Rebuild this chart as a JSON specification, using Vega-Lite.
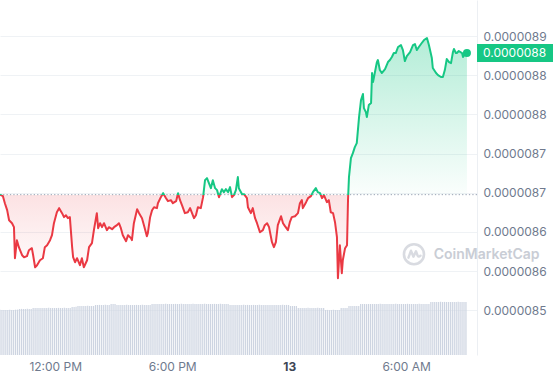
{
  "$schema": "https://vega.github.io/schema/vega-lite/v6.json",
  "width": 477,
  "height": 355,
  "autosize": {"type": "none"},
  "padding": {"left": 0, "top": 0, "right": 76, "bottom": 25},
  "background": "white",
  "config": {"view": {"stroke": null}, "font": "Inter", "scale": {"continuousPadding": 0}},
  "datasets": {
    "price": [
      {"t":"2023-06-12T09:10","p":86.976e-7},{"t":"2023-06-12T09:19","p":86.957e-7},{"t":"2023-06-12T09:25","p":86.867e-7},{"t":"2023-06-12T09:32","p":86.778e-7},{"t":"2023-06-12T09:38","p":86.650e-7},{"t":"2023-06-12T09:47","p":86.612e-7},{"t":"2023-06-12T09:53","p":86.561e-7},{"t":"2023-06-12T09:56","p":86.165e-7},{"t":"2023-06-12T10:02","p":86.395e-7},{"t":"2023-06-12T10:08","p":86.306e-7},
      {"t":"2023-06-12T10:18","p":86.203e-7},{"t":"2023-06-12T10:24","p":86.178e-7},{"t":"2023-06-12T10:33","p":86.191e-7},{"t":"2023-06-12T10:39","p":86.267e-7},{"t":"2023-06-12T10:48","p":86.293e-7},{"t":"2023-06-12T10:52","p":86.203e-7},{"t":"2023-06-12T10:58","p":86.050e-7},{"t":"2023-06-12T11:04","p":86.076e-7},{"t":"2023-06-12T11:13","p":86.139e-7},{"t":"2023-06-12T11:22","p":86.165e-7},
      {"t":"2023-06-12T11:28","p":86.306e-7},{"t":"2023-06-12T11:35","p":86.331e-7},{"t":"2023-06-12T11:44","p":86.395e-7},{"t":"2023-06-12T11:50","p":86.459e-7},{"t":"2023-06-12T11:56","p":86.612e-7},{"t":"2023-06-12T12:05","p":86.752e-7},{"t":"2023-06-12T12:12","p":86.804e-7},{"t":"2023-06-12T12:21","p":86.740e-7},{"t":"2023-06-12T12:27","p":86.689e-7},{"t":"2023-06-12T12:33","p":86.714e-7},
      {"t":"2023-06-12T12:39","p":86.676e-7},{"t":"2023-06-12T12:45","p":86.689e-7},{"t":"2023-06-12T12:52","p":86.306e-7},{"t":"2023-06-12T12:55","p":86.178e-7},{"t":"2023-06-12T13:01","p":86.114e-7},{"t":"2023-06-12T13:07","p":86.165e-7},{"t":"2023-06-12T13:16","p":86.076e-7},{"t":"2023-06-12T13:22","p":86.165e-7},{"t":"2023-06-12T13:28","p":86.050e-7},{"t":"2023-06-12T13:38","p":86.139e-7},
      {"t":"2023-06-12T13:44","p":86.306e-7},{"t":"2023-06-12T13:53","p":86.357e-7},{"t":"2023-06-12T13:59","p":86.523e-7},{"t":"2023-06-12T14:08","p":86.740e-7},{"t":"2023-06-12T14:12","p":86.548e-7},{"t":"2023-06-12T14:18","p":86.612e-7},{"t":"2023-06-12T14:24","p":86.561e-7},{"t":"2023-06-12T14:30","p":86.612e-7},{"t":"2023-06-12T14:39","p":86.523e-7},{"t":"2023-06-12T14:45","p":86.561e-7},
      {"t":"2023-06-12T14:55","p":86.535e-7},{"t":"2023-06-12T15:01","p":86.561e-7},{"t":"2023-06-12T15:10","p":86.587e-7},{"t":"2023-06-12T15:16","p":86.612e-7},{"t":"2023-06-12T15:22","p":86.548e-7},{"t":"2023-06-12T15:28","p":86.459e-7},{"t":"2023-06-12T15:38","p":86.382e-7},{"t":"2023-06-12T15:44","p":86.459e-7},{"t":"2023-06-12T15:53","p":86.421e-7},{"t":"2023-06-12T15:56","p":86.395e-7},
      {"t":"2023-06-12T16:02","p":86.612e-7},{"t":"2023-06-12T16:12","p":86.791e-7},{"t":"2023-06-12T16:18","p":86.740e-7},{"t":"2023-06-12T16:27","p":86.676e-7},{"t":"2023-06-12T16:33","p":86.587e-7},{"t":"2023-06-12T16:42","p":86.446e-7},{"t":"2023-06-12T16:45","p":86.484e-7},{"t":"2023-06-12T16:52","p":86.689e-7},{"t":"2023-06-12T16:58","p":86.778e-7},{"t":"2023-06-12T17:04","p":86.816e-7},
      {"t":"2023-06-12T17:13","p":86.804e-7},{"t":"2023-06-12T17:16","p":86.867e-7},{"t":"2023-06-12T17:25","p":86.944e-7},{"t":"2023-06-12T17:32","p":86.995e-7},{"t":"2023-06-12T17:41","p":86.931e-7},{"t":"2023-06-12T17:47","p":86.893e-7},{"t":"2023-06-12T17:56","p":86.906e-7},{"t":"2023-06-12T18:02","p":86.867e-7},{"t":"2023-06-12T18:12","p":86.893e-7},{"t":"2023-06-12T18:18","p":86.995e-7},
      {"t":"2023-06-12T18:24","p":86.906e-7},{"t":"2023-06-12T18:30","p":86.842e-7},{"t":"2023-06-12T18:39","p":86.740e-7},{"t":"2023-06-12T18:48","p":86.752e-7},{"t":"2023-06-12T18:55","p":86.804e-7},{"t":"2023-06-12T19:01","p":86.740e-7},{"t":"2023-06-12T19:07","p":86.676e-7},{"t":"2023-06-12T19:13","p":86.714e-7},{"t":"2023-06-12T19:19","p":86.816e-7},{"t":"2023-06-12T19:28","p":86.804e-7},
      {"t":"2023-06-12T19:35","p":86.944e-7},{"t":"2023-06-12T19:41","p":87.161e-7},{"t":"2023-06-12T19:47","p":87.187e-7},{"t":"2023-06-12T19:53","p":87.123e-7},{"t":"2023-06-12T19:59","p":87.059e-7},{"t":"2023-06-12T20:05","p":87.161e-7},{"t":"2023-06-12T20:12","p":87.059e-7},{"t":"2023-06-12T20:18","p":87.034e-7},{"t":"2023-06-12T20:24","p":86.944e-7},{"t":"2023-06-12T20:33","p":87.046e-7},
      {"t":"2023-06-12T20:39","p":87.008e-7},{"t":"2023-06-12T20:45","p":87.046e-7},{"t":"2023-06-12T20:52","p":87.008e-7},{"t":"2023-06-12T20:58","p":87.072e-7},{"t":"2023-06-12T21:04","p":86.944e-7},{"t":"2023-06-12T21:10","p":86.970e-7},{"t":"2023-06-12T21:16","p":87.034e-7},{"t":"2023-06-12T21:22","p":87.200e-7},{"t":"2023-06-12T21:25","p":87.059e-7},{"t":"2023-06-12T21:35","p":86.982e-7},
      {"t":"2023-06-12T21:41","p":86.982e-7},{"t":"2023-06-12T21:50","p":86.931e-7},{"t":"2023-06-12T21:53","p":86.816e-7},{"t":"2023-06-12T22:02","p":86.740e-7},{"t":"2023-06-12T22:08","p":86.804e-7},{"t":"2023-06-12T22:15","p":86.676e-7},{"t":"2023-06-12T22:21","p":86.612e-7},{"t":"2023-06-12T22:30","p":86.497e-7},{"t":"2023-06-12T22:39","p":86.523e-7},{"t":"2023-06-12T22:45","p":86.587e-7},
      {"t":"2023-06-12T22:52","p":86.612e-7},{"t":"2023-06-12T22:58","p":86.561e-7},{"t":"2023-06-12T23:07","p":86.369e-7},{"t":"2023-06-12T23:13","p":86.306e-7},{"t":"2023-06-12T23:19","p":86.369e-7},{"t":"2023-06-12T23:25","p":86.587e-7},{"t":"2023-06-12T23:35","p":86.701e-7},{"t":"2023-06-12T23:41","p":86.612e-7},{"t":"2023-06-12T23:47","p":86.574e-7},{"t":"2023-06-12T23:56","p":86.523e-7},
      {"t":"2023-06-13T00:02","p":86.625e-7},{"t":"2023-06-13T00:08","p":86.689e-7},{"t":"2023-06-13T00:18","p":86.701e-7},{"t":"2023-06-13T00:27","p":86.740e-7},{"t":"2023-06-13T00:33","p":86.867e-7},{"t":"2023-06-13T00:39","p":86.906e-7},{"t":"2023-06-13T00:42","p":86.804e-7},{"t":"2023-06-13T00:52","p":86.880e-7},{"t":"2023-06-13T00:58","p":86.931e-7},{"t":"2023-06-13T01:07","p":86.957e-7},
      {"t":"2023-06-13T01:13","p":87.008e-7},{"t":"2023-06-13T01:22","p":87.059e-7},{"t":"2023-06-13T01:28","p":87.008e-7},{"t":"2023-06-13T01:35","p":86.995e-7},{"t":"2023-06-13T01:41","p":86.931e-7},{"t":"2023-06-13T01:47","p":86.970e-7},{"t":"2023-06-13T01:56","p":86.880e-7},{"t":"2023-06-13T02:02","p":86.906e-7},{"t":"2023-06-13T02:08","p":86.752e-7},{"t":"2023-06-13T02:15","p":86.740e-7},
      {"t":"2023-06-13T02:21","p":86.625e-7},{"t":"2023-06-13T02:27","p":86.433e-7},{"t":"2023-06-13T02:30","p":85.910e-7},{"t":"2023-06-13T02:36","p":86.331e-7},{"t":"2023-06-13T02:42","p":85.974e-7},{"t":"2023-06-13T02:45","p":86.139e-7},{"t":"2023-06-13T02:52","p":86.293e-7},{"t":"2023-06-13T02:58","p":86.331e-7},{"t":"2023-06-13T03:01","p":86.906e-7},{"t":"2023-06-13T03:04","p":87.200e-7},
      {"t":"2023-06-13T03:10","p":87.442e-7},{"t":"2023-06-13T03:16","p":87.506e-7},{"t":"2023-06-13T03:22","p":87.583e-7},{"t":"2023-06-13T03:28","p":87.634e-7},{"t":"2023-06-13T03:35","p":87.966e-7},{"t":"2023-06-13T03:41","p":88.183e-7},{"t":"2023-06-13T03:47","p":88.260e-7},{"t":"2023-06-13T03:50","p":88.081e-7},{"t":"2023-06-13T03:56","p":88.030e-7},{"t":"2023-06-13T03:59","p":87.966e-7},
      {"t":"2023-06-13T04:05","p":88.119e-7},{"t":"2023-06-13T04:12","p":88.145e-7},{"t":"2023-06-13T04:15","p":88.528e-7},{"t":"2023-06-13T04:18","p":88.413e-7},{"t":"2023-06-13T04:24","p":88.541e-7},{"t":"2023-06-13T04:30","p":88.668e-7},{"t":"2023-06-13T04:33","p":88.694e-7},{"t":"2023-06-13T04:39","p":88.566e-7},{"t":"2023-06-13T04:45","p":88.528e-7},{"t":"2023-06-13T04:55","p":88.579e-7},
      {"t":"2023-06-13T05:04","p":88.668e-7},{"t":"2023-06-13T05:10","p":88.694e-7},{"t":"2023-06-13T05:16","p":88.732e-7},{"t":"2023-06-13T05:22","p":88.783e-7},{"t":"2023-06-13T05:28","p":88.783e-7},{"t":"2023-06-13T05:35","p":88.860e-7},{"t":"2023-06-13T05:44","p":88.885e-7},{"t":"2023-06-13T05:50","p":88.821e-7},{"t":"2023-06-13T05:56","p":88.681e-7},{"t":"2023-06-13T06:02","p":88.745e-7},
      {"t":"2023-06-13T06:12","p":88.796e-7},{"t":"2023-06-13T06:21","p":88.885e-7},{"t":"2023-06-13T06:27","p":88.898e-7},{"t":"2023-06-13T06:33","p":88.821e-7},{"t":"2023-06-13T06:39","p":88.860e-7},{"t":"2023-06-13T06:48","p":88.911e-7},{"t":"2023-06-13T06:55","p":88.949e-7},{"t":"2023-06-13T07:04","p":88.975e-7},{"t":"2023-06-13T07:10","p":88.885e-7},{"t":"2023-06-13T07:19","p":88.719e-7},
      {"t":"2023-06-13T07:22","p":88.592e-7},{"t":"2023-06-13T07:32","p":88.528e-7},{"t":"2023-06-13T07:38","p":88.502e-7},{"t":"2023-06-13T07:47","p":88.477e-7},{"t":"2023-06-13T07:53","p":88.477e-7},{"t":"2023-06-13T07:59","p":88.566e-7},{"t":"2023-06-13T08:05","p":88.707e-7},{"t":"2023-06-13T08:12","p":88.668e-7},{"t":"2023-06-13T08:18","p":88.655e-7},{"t":"2023-06-13T08:24","p":88.796e-7},
      {"t":"2023-06-13T08:27","p":88.834e-7},{"t":"2023-06-13T08:33","p":88.783e-7},{"t":"2023-06-13T08:36","p":88.783e-7},{"t":"2023-06-13T08:42","p":88.809e-7},{"t":"2023-06-13T08:52","p":88.783e-7},{"t":"2023-06-13T08:55","p":88.732e-7},{"t":"2023-06-13T09:01","p":88.770e-7},{"t":"2023-06-13T09:07","p":88.783e-7}
    ],
    "vol": [
      {"t":"2023-06-12T09:10","v":45.2},{"t":"2023-06-12T09:16","v":45},{"t":"2023-06-12T09:22","v":45.1},{"t":"2023-06-12T09:28","v":44.9},{"t":"2023-06-12T09:34","v":45},{"t":"2023-06-12T09:40","v":45.2},{"t":"2023-06-12T09:46","v":45.1},{"t":"2023-06-12T09:52","v":45},{"t":"2023-06-12T09:58","v":45.3},{"t":"2023-06-12T10:04","v":45.4},
      {"t":"2023-06-12T10:10","v":46},{"t":"2023-06-12T10:16","v":46.1},{"t":"2023-06-12T10:22","v":45.9},{"t":"2023-06-12T10:28","v":46},{"t":"2023-06-12T10:34","v":46.2},{"t":"2023-06-12T10:40","v":46},{"t":"2023-06-12T10:46","v":46.1},{"t":"2023-06-12T10:52","v":47},{"t":"2023-06-12T10:58","v":47.1},{"t":"2023-06-12T11:04","v":46.9},
      {"t":"2023-06-12T11:10","v":47},{"t":"2023-06-12T11:16","v":47.1},{"t":"2023-06-12T11:22","v":47},{"t":"2023-06-12T11:28","v":46.9},{"t":"2023-06-12T11:34","v":47},{"t":"2023-06-12T11:40","v":47.2},{"t":"2023-06-12T11:46","v":47},{"t":"2023-06-12T11:52","v":47.1},{"t":"2023-06-12T11:58","v":47},{"t":"2023-06-12T12:04","v":47},
      {"t":"2023-06-12T12:10","v":47.1},{"t":"2023-06-12T12:16","v":47},{"t":"2023-06-12T12:22","v":47},{"t":"2023-06-12T12:28","v":47.2},{"t":"2023-06-12T12:34","v":47},{"t":"2023-06-12T12:40","v":46.9},{"t":"2023-06-12T12:46","v":47.1},{"t":"2023-06-12T12:52","v":48},{"t":"2023-06-12T12:58","v":48.1},{"t":"2023-06-12T13:04","v":48.2},
      {"t":"2023-06-12T13:10","v":49},{"t":"2023-06-12T13:16","v":49.1},{"t":"2023-06-12T13:22","v":49},{"t":"2023-06-12T13:28","v":48.9},{"t":"2023-06-12T13:34","v":49},{"t":"2023-06-12T13:40","v":49.2},{"t":"2023-06-12T13:46","v":49},{"t":"2023-06-12T13:52","v":49.1},{"t":"2023-06-12T13:58","v":49},{"t":"2023-06-12T14:04","v":50},
      {"t":"2023-06-12T14:10","v":50},{"t":"2023-06-12T14:16","v":50.1},{"t":"2023-06-12T14:22","v":49.9},{"t":"2023-06-12T14:28","v":50},{"t":"2023-06-12T14:34","v":50.2},{"t":"2023-06-12T14:40","v":50},{"t":"2023-06-12T14:46","v":50.1},{"t":"2023-06-12T14:52","v":51},{"t":"2023-06-12T14:58","v":51.1},{"t":"2023-06-12T15:04","v":50.9},
      {"t":"2023-06-12T15:10","v":50},{"t":"2023-06-12T15:16","v":50.1},{"t":"2023-06-12T15:22","v":50},{"t":"2023-06-12T15:28","v":49.9},{"t":"2023-06-12T15:34","v":50},{"t":"2023-06-12T15:40","v":50.2},{"t":"2023-06-12T15:46","v":50},{"t":"2023-06-12T15:52","v":50.1},{"t":"2023-06-12T15:58","v":50},{"t":"2023-06-12T16:04","v":50},
      {"t":"2023-06-12T16:10","v":50.1},{"t":"2023-06-12T16:16","v":50},{"t":"2023-06-12T16:22","v":50},{"t":"2023-06-12T16:28","v":50.2},{"t":"2023-06-12T16:34","v":50},{"t":"2023-06-12T16:40","v":49.9},{"t":"2023-06-12T16:46","v":50.1},{"t":"2023-06-12T16:52","v":50},{"t":"2023-06-12T16:58","v":51},{"t":"2023-06-12T17:04","v":51.1},
      {"t":"2023-06-12T17:10","v":51},{"t":"2023-06-12T17:16","v":51.1},{"t":"2023-06-12T17:22","v":51},{"t":"2023-06-12T17:28","v":50.9},{"t":"2023-06-12T17:34","v":51},{"t":"2023-06-12T17:40","v":51.2},{"t":"2023-06-12T17:46","v":51},{"t":"2023-06-12T17:52","v":51.1},{"t":"2023-06-12T17:58","v":51},{"t":"2023-06-12T18:04","v":51},
      {"t":"2023-06-12T18:10","v":51.1},{"t":"2023-06-12T18:16","v":51},{"t":"2023-06-12T18:22","v":51},{"t":"2023-06-12T18:28","v":51.2},{"t":"2023-06-12T18:34","v":51},{"t":"2023-06-12T18:40","v":50.9},{"t":"2023-06-12T18:46","v":51.1},{"t":"2023-06-12T18:52","v":51},{"t":"2023-06-12T18:58","v":51},{"t":"2023-06-12T19:04","v":51.2},
      {"t":"2023-06-12T19:10","v":51},{"t":"2023-06-12T19:16","v":51.1},{"t":"2023-06-12T19:22","v":51},{"t":"2023-06-12T19:28","v":50.9},{"t":"2023-06-12T19:34","v":51},{"t":"2023-06-12T19:40","v":51.2},{"t":"2023-06-12T19:46","v":51},{"t":"2023-06-12T19:52","v":51.1},{"t":"2023-06-12T19:58","v":51},{"t":"2023-06-12T20:04","v":51},
      {"t":"2023-06-12T20:10","v":51.1},{"t":"2023-06-12T20:16","v":51},{"t":"2023-06-12T20:22","v":51},{"t":"2023-06-12T20:28","v":51.2},{"t":"2023-06-12T20:34","v":51},{"t":"2023-06-12T20:40","v":50.9},{"t":"2023-06-12T20:46","v":51.1},{"t":"2023-06-12T20:52","v":51},{"t":"2023-06-12T20:58","v":50},{"t":"2023-06-12T21:04","v":50.1},
      {"t":"2023-06-12T21:10","v":50},{"t":"2023-06-12T21:16","v":50.1},{"t":"2023-06-12T21:22","v":50},{"t":"2023-06-12T21:28","v":49.9},{"t":"2023-06-12T21:34","v":50},{"t":"2023-06-12T21:40","v":50.2},{"t":"2023-06-12T21:46","v":50},{"t":"2023-06-12T21:52","v":50.1},{"t":"2023-06-12T21:58","v":50},{"t":"2023-06-12T22:04","v":50},
      {"t":"2023-06-12T22:10","v":50.1},{"t":"2023-06-12T22:16","v":50},{"t":"2023-06-12T22:22","v":50},{"t":"2023-06-12T22:28","v":50.2},{"t":"2023-06-12T22:34","v":50},{"t":"2023-06-12T22:40","v":49.9},{"t":"2023-06-12T22:46","v":50.1},{"t":"2023-06-12T22:52","v":50},{"t":"2023-06-12T22:58","v":50},{"t":"2023-06-12T23:04","v":50.1},
      {"t":"2023-06-12T23:10","v":50},{"t":"2023-06-12T23:16","v":50.1},{"t":"2023-06-12T23:22","v":50},{"t":"2023-06-12T23:28","v":49.9},{"t":"2023-06-12T23:34","v":50},{"t":"2023-06-12T23:40","v":50.2},{"t":"2023-06-12T23:46","v":50},{"t":"2023-06-12T23:52","v":50.1},{"t":"2023-06-12T23:58","v":50},{"t":"2023-06-13T00:04","v":49},
      {"t":"2023-06-13T00:10","v":49},{"t":"2023-06-13T00:16","v":49.1},{"t":"2023-06-13T00:22","v":48.9},{"t":"2023-06-13T00:28","v":47},{"t":"2023-06-13T00:34","v":47.1},{"t":"2023-06-13T00:40","v":47},{"t":"2023-06-13T00:46","v":46.9},{"t":"2023-06-13T00:52","v":47},{"t":"2023-06-13T00:58","v":47.2},{"t":"2023-06-13T01:04","v":47},
      {"t":"2023-06-13T01:10","v":47.1},{"t":"2023-06-13T01:16","v":47},{"t":"2023-06-13T01:22","v":47},{"t":"2023-06-13T01:28","v":47.2},{"t":"2023-06-13T01:34","v":47},{"t":"2023-06-13T01:40","v":46.9},{"t":"2023-06-13T01:46","v":47},{"t":"2023-06-13T01:52","v":45},{"t":"2023-06-13T01:58","v":45.1},{"t":"2023-06-13T02:04","v":44.9},
      {"t":"2023-06-13T02:10","v":45},{"t":"2023-06-13T02:16","v":45.2},{"t":"2023-06-13T02:22","v":45},{"t":"2023-06-13T02:28","v":44.9},{"t":"2023-06-13T02:34","v":45.1},{"t":"2023-06-13T02:40","v":47},{"t":"2023-06-13T02:46","v":47.1},{"t":"2023-06-13T02:52","v":46.9},{"t":"2023-06-13T02:58","v":47},{"t":"2023-06-13T03:04","v":49},
      {"t":"2023-06-13T03:10","v":49},{"t":"2023-06-13T03:16","v":49.1},{"t":"2023-06-13T03:22","v":49},{"t":"2023-06-13T03:28","v":48.9},{"t":"2023-06-13T03:34","v":49.1},{"t":"2023-06-13T03:40","v":51},{"t":"2023-06-13T03:46","v":51.1},{"t":"2023-06-13T03:52","v":51},{"t":"2023-06-13T03:58","v":50.9},{"t":"2023-06-13T04:04","v":51},
      {"t":"2023-06-13T04:10","v":51},{"t":"2023-06-13T04:16","v":51.1},{"t":"2023-06-13T04:22","v":51},{"t":"2023-06-13T04:28","v":50.9},{"t":"2023-06-13T04:34","v":51},{"t":"2023-06-13T04:40","v":51.2},{"t":"2023-06-13T04:46","v":51},{"t":"2023-06-13T04:52","v":51.1},{"t":"2023-06-13T04:58","v":51},{"t":"2023-06-13T05:04","v":51},
      {"t":"2023-06-13T05:10","v":51.1},{"t":"2023-06-13T05:16","v":51},{"t":"2023-06-13T05:22","v":51},{"t":"2023-06-13T05:28","v":51.2},{"t":"2023-06-13T05:34","v":51},{"t":"2023-06-13T05:40","v":50.9},{"t":"2023-06-13T05:46","v":51.1},{"t":"2023-06-13T05:52","v":51},{"t":"2023-06-13T05:58","v":51},{"t":"2023-06-13T06:04","v":51.2},
      {"t":"2023-06-13T06:10","v":51},{"t":"2023-06-13T06:16","v":51.1},{"t":"2023-06-13T06:22","v":51},{"t":"2023-06-13T06:28","v":50.9},{"t":"2023-06-13T06:34","v":51},{"t":"2023-06-13T06:40","v":51.2},{"t":"2023-06-13T06:46","v":51},{"t":"2023-06-13T06:52","v":51.1},{"t":"2023-06-13T06:58","v":51},{"t":"2023-06-13T07:04","v":51},
      {"t":"2023-06-13T07:10","v":51},{"t":"2023-06-13T07:16","v":53},{"t":"2023-06-13T07:22","v":53.1},{"t":"2023-06-13T07:28","v":53},{"t":"2023-06-13T07:34","v":52.9},{"t":"2023-06-13T07:40","v":53},{"t":"2023-06-13T07:46","v":53.2},{"t":"2023-06-13T07:52","v":53},{"t":"2023-06-13T07:58","v":53.1},{"t":"2023-06-13T08:04","v":53},
      {"t":"2023-06-13T08:10","v":53},{"t":"2023-06-13T08:16","v":53.1},{"t":"2023-06-13T08:22","v":53},{"t":"2023-06-13T08:28","v":52.9},{"t":"2023-06-13T08:34","v":53},{"t":"2023-06-13T08:40","v":53.2},{"t":"2023-06-13T08:46","v":53},{"t":"2023-06-13T08:52","v":53.1},{"t":"2023-06-13T08:58","v":53},{"t":"2023-06-13T09:04","v":53}
    ],
    "last": [
      {"t":"2023-06-13T09:07","p":88.783e-7,"label":"0.0000088","base":86.976e-7}
    ]
  },
  "layer": [
    {
      "data": {"name": "vol"},
      "mark": {"type": "bar", "color": "#cdd4e1", "size": 1.2},
      "encoding": {
        "x": {
          "field": "t", "type": "temporal",
          "scale": {"padding": 0, "domain": [{"year": 2023, "month": 6, "date": 12, "hours": 9, "minutes": 10}, {"year": 2023, "month": 6, "date": 13, "hours": 9, "minutes": 38}]},
          "axis": {
            "title": null,
            "values": [{"year": 2023, "month": 6, "date": 12, "hours": 12}, {"year": 2023, "month": 6, "date": 12, "hours": 18}, {"year": 2023, "month": 6, "date": 13, "hours": 0}, {"year": 2023, "month": 6, "date": 13, "hours": 6}],
            "labelExpr": "hours(datum.value) == 0 ? timeFormat(datum.value, '%-d') : timeFormat(datum.value, '%-I:%M %p')",
            "domain": false, "ticks": false, "grid": false,
            "labelPadding": 6, "labelFontSize": 12, "labelFont": "Inter",
            "labelColor": {"condition": {"test": "hours(datum.value) == 0", "value": "#3d4555"}, "value": "#6f7a8e"},
            "labelFontWeight": {"condition": {"test": "hours(datum.value) == 0", "value": "bold"}, "value": "normal"},
            "labelOverlap": false, "labelFlush": false
          }
        },
        "y": {"field": "v", "type": "quantitative", "scale": {"domain": [0, 355]}, "axis": null}
      }
    },
    {
      "layer": [
        {
          "data": {"name": "price"},
          "mark": {
            "type": "area",
            "line": false,
            "fill": {
              "gradient": "linear", "x1": 0, "y1": 0, "x2": 0, "y2": 1,
              "stops": [
                {"offset": 0, "color": "rgba(22,199,132,0.32)"},
                {"offset": 0.652, "color": "rgba(22,199,132,0.02)"},
                {"offset": 0.652, "color": "rgba(234,57,67,0.15)"},
                {"offset": 1, "color": "rgba(234,57,67,0.0)"}
              ]
            }
          },
          "encoding": {
            "x": {"field": "t", "type": "temporal", "scale": {"padding": 0, "domain": [{"year": 2023, "month": 6, "date": 12, "hours": 9, "minutes": 10}, {"year": 2023, "month": 6, "date": 13, "hours": 9, "minutes": 38}]}},
            "y": {
              "field": "p", "type": "quantitative",
              "scale": {"domain": [84.93e-7, 89.46e-7], "zero": false, "nice": false},
              "axis": {
                "orient": "right", "title": null,
                "values": [89e-7, 88.5e-7, 88e-7, 87.5e-7, 87e-7, 86.5e-7, 86e-7, 85.5e-7],
                "labelExpr": "'0.00000' + floor(datum.value * 1e7 + 0.01)",
                "ticks": false, "domain": true, "domainColor": "#eceff3",
                "grid": true, "gridColor": "#eff2f5",
                "labelPadding": 6, "labelFontSize": 12, "labelFont": "Inter", "labelColor": "#6f7a8e",
                "labelOverlap": false
              }
            },
            "y2": {"datum": 86.976e-7}
          }
        },
        {
          "data": {"name": "last"},
          "mark": {"type": "rule", "stroke": "#9aa3b5", "strokeDash": [1.3, 2.1], "strokeWidth": 1},
          "encoding": {"y": {"field": "base", "type": "quantitative"}}
        },
        {
          "data": {"values": [{"label": "CoinMarketCap"}]},
          "mark": {"type": "point", "shape": "circle", "filled": false, "size": 400, "stroke": "#c9cdd5", "strokeWidth": 2.6},
          "encoding": {
            "x": {"datum": {"year": 2023, "month": 6, "date": 13, "hours": 6, "minutes": 24}, "type": "temporal"},
            "y": {"datum": 86.216e-7, "type": "quantitative"}
          }
        },
        {
          "data": {"values": [{"label": "CoinMarketCap"}]},
          "mark": {"type": "point", "shape": "M-0.55,0.35 L-0.3,-0.35 L-0.05,0.25 L0.2,-0.3 L0.35,0.1 Q0.45,0.35 0.65,0.15", "filled": false, "size": 400, "stroke": "#c9cdd5", "strokeWidth": 2.4, "strokeJoin": "round", "strokeCap": "round"},
          "encoding": {
            "x": {"datum": {"year": 2023, "month": 6, "date": 13, "hours": 6, "minutes": 24}, "type": "temporal"},
            "y": {"datum": 86.216e-7, "type": "quantitative"}
          }
        },
        {
          "data": {"values": [{"label": "CoinMarketCap"}]},
          "mark": {"type": "text", "align": "left", "baseline": "middle", "font": "Inter", "fontSize": 14, "fontWeight": 600, "color": "#c9cdd5"},
          "encoding": {
            "x": {"datum": {"year": 2023, "month": 6, "date": 13, "hours": 7, "minutes": 25}, "type": "temporal"},
            "y": {"datum": 86.203e-7, "type": "quantitative"},
            "text": {"field": "label"}
          }
        },
        {
          "data": {"name": "price"},
          "mark": {
            "type": "line",
            "strokeWidth": 2,
            "strokeJoin": "round",
            "stroke": {
              "gradient": "linear", "x1": 0, "y1": 0, "x2": 0, "y2": 1,
              "stops": [
                {"offset": 0, "color": "#16c784"},
                {"offset": 0.652, "color": "#16c784"},
                {"offset": 0.652, "color": "#ea3943"},
                {"offset": 1, "color": "#ea3943"}
              ]
            }
          },
          "encoding": {
            "x": {"field": "t", "type": "temporal", "scale": {"padding": 0, "domain": [{"year": 2023, "month": 6, "date": 12, "hours": 9, "minutes": 10}, {"year": 2023, "month": 6, "date": 13, "hours": 9, "minutes": 38}]}},
            "y": {"field": "p", "type": "quantitative"}
          }
        },
        {
          "data": {"name": "last"},
          "mark": {"type": "point", "filled": true, "size": 64, "color": "#16c784", "opacity": 1},
          "encoding": {
            "x": {"field": "t", "type": "temporal"},
            "y": {"field": "p", "type": "quantitative"}
          }
        },
        {
          "data": {"name": "last"},
          "mark": {"type": "rect", "color": "#16c784"},
          "encoding": {
            "x": {"datum": {"year": 2023, "month": 6, "date": 13, "hours": 9, "minutes": 38}, "type": "temporal"},
            "x2": {"datum": {"year": 2023, "month": 6, "date": 13, "hours": 14, "minutes": 0}},
            "y": {"datum": 88.898e-7, "type": "quantitative"},
            "y2": {"datum": 88.668e-7}
          }
        },
        {
          "data": {"name": "last"},
          "mark": {"type": "text", "align": "left", "baseline": "middle", "dx": 6, "font": "Inter", "fontSize": 12, "color": "white"},
          "encoding": {
            "x": {"datum": {"year": 2023, "month": 6, "date": 13, "hours": 9, "minutes": 38}, "type": "temporal"},
            "y": {"field": "p", "type": "quantitative"},
            "text": {"field": "label"}
          }
        }
      ]
    }
  ],
  "resolve": {"scale": {"y": "independent"}}
}
